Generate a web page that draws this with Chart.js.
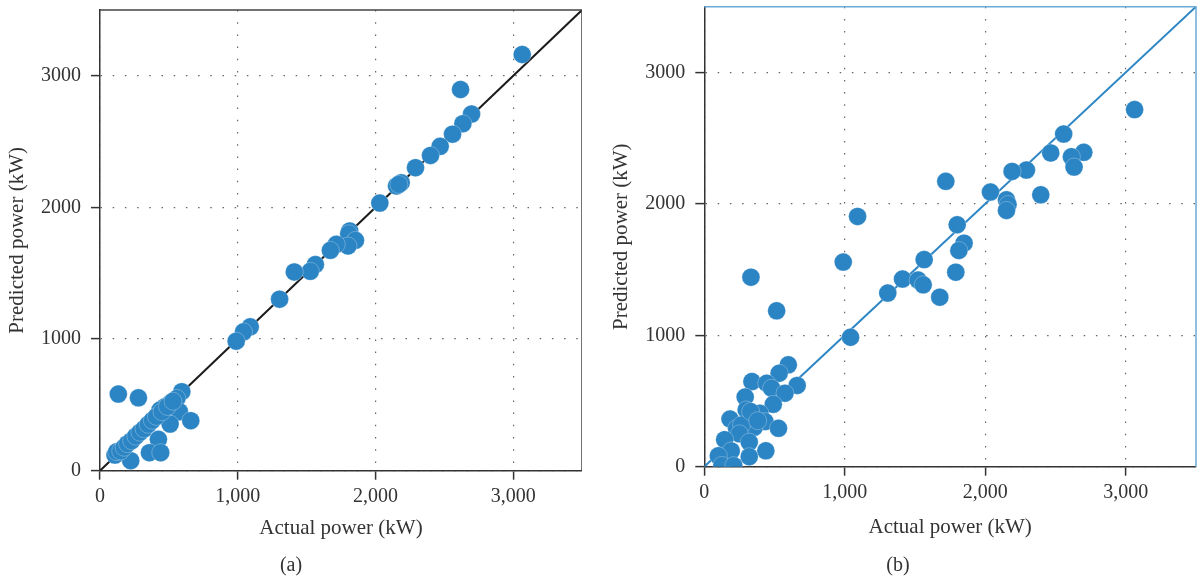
<!DOCTYPE html>
<html>
<head>
<meta charset="utf-8">
<title>Actual vs predicted power</title>
<script src="https://cdn.jsdelivr.net/npm/chart.js@4.4.0/dist/chart.umd.min.js"></script>
<style>
  body { margin: 0; background: #fff; }
  #wrap { position: relative; width: 1202px; height: 582px; }
  canvas { position: absolute; top: 0; }
  #panelA { left: 0; }
  #panelB { left: 600px; }
</style>
</head>
<body>
<div id="wrap">
  <canvas id="panelA" width="582" height="582"></canvas>
  <canvas id="panelB" width="602" height="582"></canvas>
</div>
<script>
// shared axis range and labelled ticks (kW)
const axisMax = 3500;
const tickValues = [0, 1000, 2000, 3000];

// model (a): actual vs predicted power
const actualA = [3066, 2618, 2698, 2635, 2560, 2470, 2400, 2291, 2187, 2153, 2170, 2032,
    1813, 1806, 1855, 1801, 1716, 1673, 1564, 1527, 1411, 1304, 1091, 1042, 989,
    133, 279, 594, 558, 509, 473, 436, 577, 659, 509, 424, 359, 441, 223, 109,
    121, 150, 175, 200, 230, 260, 290, 320, 350, 380, 410, 450, 490, 530];
const predictedA = [3162, 2896, 2709, 2636, 2557, 2464, 2395, 2302, 2188, 2163, 2175, 2033,
    1821, 1800, 1750, 1707, 1720, 1674, 1566, 1515, 1510, 1303, 1093, 1055, 984,
    582, 554, 600, 549, 511, 486, 461, 448, 380, 354, 238, 137, 137, 76, 119,
    144, 150, 178, 205, 228, 262, 292, 318, 352, 383, 412, 448, 488, 528];

// model (b): actual vs predicted power
const actualB = [3063, 2558, 2466, 2701, 2613, 2632, 2293, 2191, 2395, 2037, 2151, 2162, 2151,
    1849, 1812, 1800, 1790, 1719, 1091, 989, 1565, 1411, 1522, 1558, 1676, 1306, 1041,
    332, 515, 598, 533, 661, 339, 444, 479, 574, 291, 491, 298, 396, 183, 432, 355,
    528, 230, 265, 330, 380, 250, 145, 320, 192, 438, 320, 100, 125, 210];
const predictedB = [2717, 2531, 2387, 2392, 2358, 2280, 2257, 2247, 2069, 2090, 2031, 1995, 1950,
    1701, 1645, 1841, 1480, 2171, 1904, 1557, 1576, 1428, 1420, 1384, 1290, 1321, 985,
    1442, 1186, 775, 711, 618, 648, 635, 597, 559, 530, 475, 432, 407, 363, 343, 300,
    292, 290, 318, 420, 350, 250, 206, 187, 120, 121, 76, 83, 10, 8];

const POINT_BLUE = '#2b84c3';
const SERIF = "'Liberation Serif', 'Times New Roman', serif";
const INK = '#333';

// closes the plot box on the top and right sides
const framePlugin = {
    id: 'frame',
    afterDraw(chart, args, opts) {
        const { ctx, chartArea: a } = chart;
        ctx.save();
        ctx.lineWidth = opts.width;
        ctx.strokeStyle = opts.color;
        ctx.beginPath();
        ctx.moveTo(a.left, a.top);
        ctx.lineTo(a.right, a.top);
        ctx.lineTo(a.right, a.bottom);
        ctx.stroke();
        ctx.restore();
    }
};

function toPoints(xs, ys) {
    return xs.map((x, i) => ({ x, y: ys[i] }));
}

function scaleOptions(isX, cfg) {
    return {
        type: 'linear',
        min: 0,
        max: axisMax,
        afterBuildTicks: s => { s.ticks = tickValues.map(v => ({ value: v })); },
        afterFit: s => {
            if (isX) s.height = cfg.xHeight; else s.width = cfg.yWidth;
            s.paddingTop = s.paddingBottom = s.paddingLeft = s.paddingRight = 0;
        },
        ticks: {
            font: { family: SERIF, size: 20 },
            color: INK,
            padding: isX ? cfg.xTickPad : 10,
            maxRotation: 0,
            callback: v => isX ? v.toLocaleString('en-US') : String(v)
        },
        grid: { color: '#666', lineWidth: 1.2, tickLength: 9, tickColor: INK, tickWidth: 1.5 },
        border: { color: INK, width: 1.5, dash: [1.5, 10.7] },
        title: {
            display: true,
            text: isX ? 'Actual power (kW)' : 'Predicted power (kW)',
            font: { family: SERIF, size: 21 },
            color: INK,
            padding: isX ? { top: 0, bottom: cfg.xTitlePad } : { top: cfg.yTitlePad, bottom: 0 }
        }
    };
}

function makePanel(id, cfg) {
    return new Chart(document.getElementById(id), {
        type: 'scatter',
        data: {
            datasets: [
                {
                    data: toPoints(cfg.actual, cfg.predicted),
                    backgroundColor: POINT_BLUE,
                    borderColor: 'rgba(255,255,255,0.35)',
                    borderWidth: 0.8,
                    pointRadius: 9,
                    pointHoverRadius: 9
                },
                {
                    data: [{ x: 0, y: 0 }, { x: axisMax, y: axisMax }],
                    showLine: true,
                    borderColor: cfg.lineColor,
                    borderWidth: 2,
                    pointRadius: 0
                }
            ]
        },
        options: {
            responsive: false,
            animation: false,
            layout: { padding: cfg.padding, autoPadding: false },
            scales: { x: scaleOptions(true, cfg), y: scaleOptions(false, cfg) },
            plugins: {
                legend: { display: false },
                tooltip: { enabled: false },
                title: {
                    display: true,
                    text: cfg.caption,
                    position: 'bottom',
                    color: INK,
                    font: { family: SERIF, size: 20, weight: 'normal' },
                    padding: { top: cfg.captionGap, bottom: 4 }
                },
                frame: cfg.frame
            }
        },
        plugins: [framePlugin]
    });
}

makePanel('panelA', {
    actual: actualA, predicted: predictedA, caption: '(a)',
    lineColor: '#1c1c1c',
    padding: { top: 10, left: 0, right: 0, bottom: 0 },
    yWidth: 100, xHeight: 74, xTickPad: 5, xTitlePad: 4, yTitlePad: 4.4, captionGap: 9.3,
    frame: { color: '#444', width: 1.5 }
});

makePanel('panelB', {
    actual: actualB, predicted: predictedB, caption: '(b)',
    lineColor: '#2e86c5',
    padding: { top: 6.7, left: 0, right: 6, bottom: 0 },
    yWidth: 104.3, xHeight: 74, xTickPad: 5, xTitlePad: 1.1, yTitlePad: 8.4, captionGap: 13.3,
    frame: { color: '#6aaad8', width: 1.5 }
});
</script>
</body>
</html>
